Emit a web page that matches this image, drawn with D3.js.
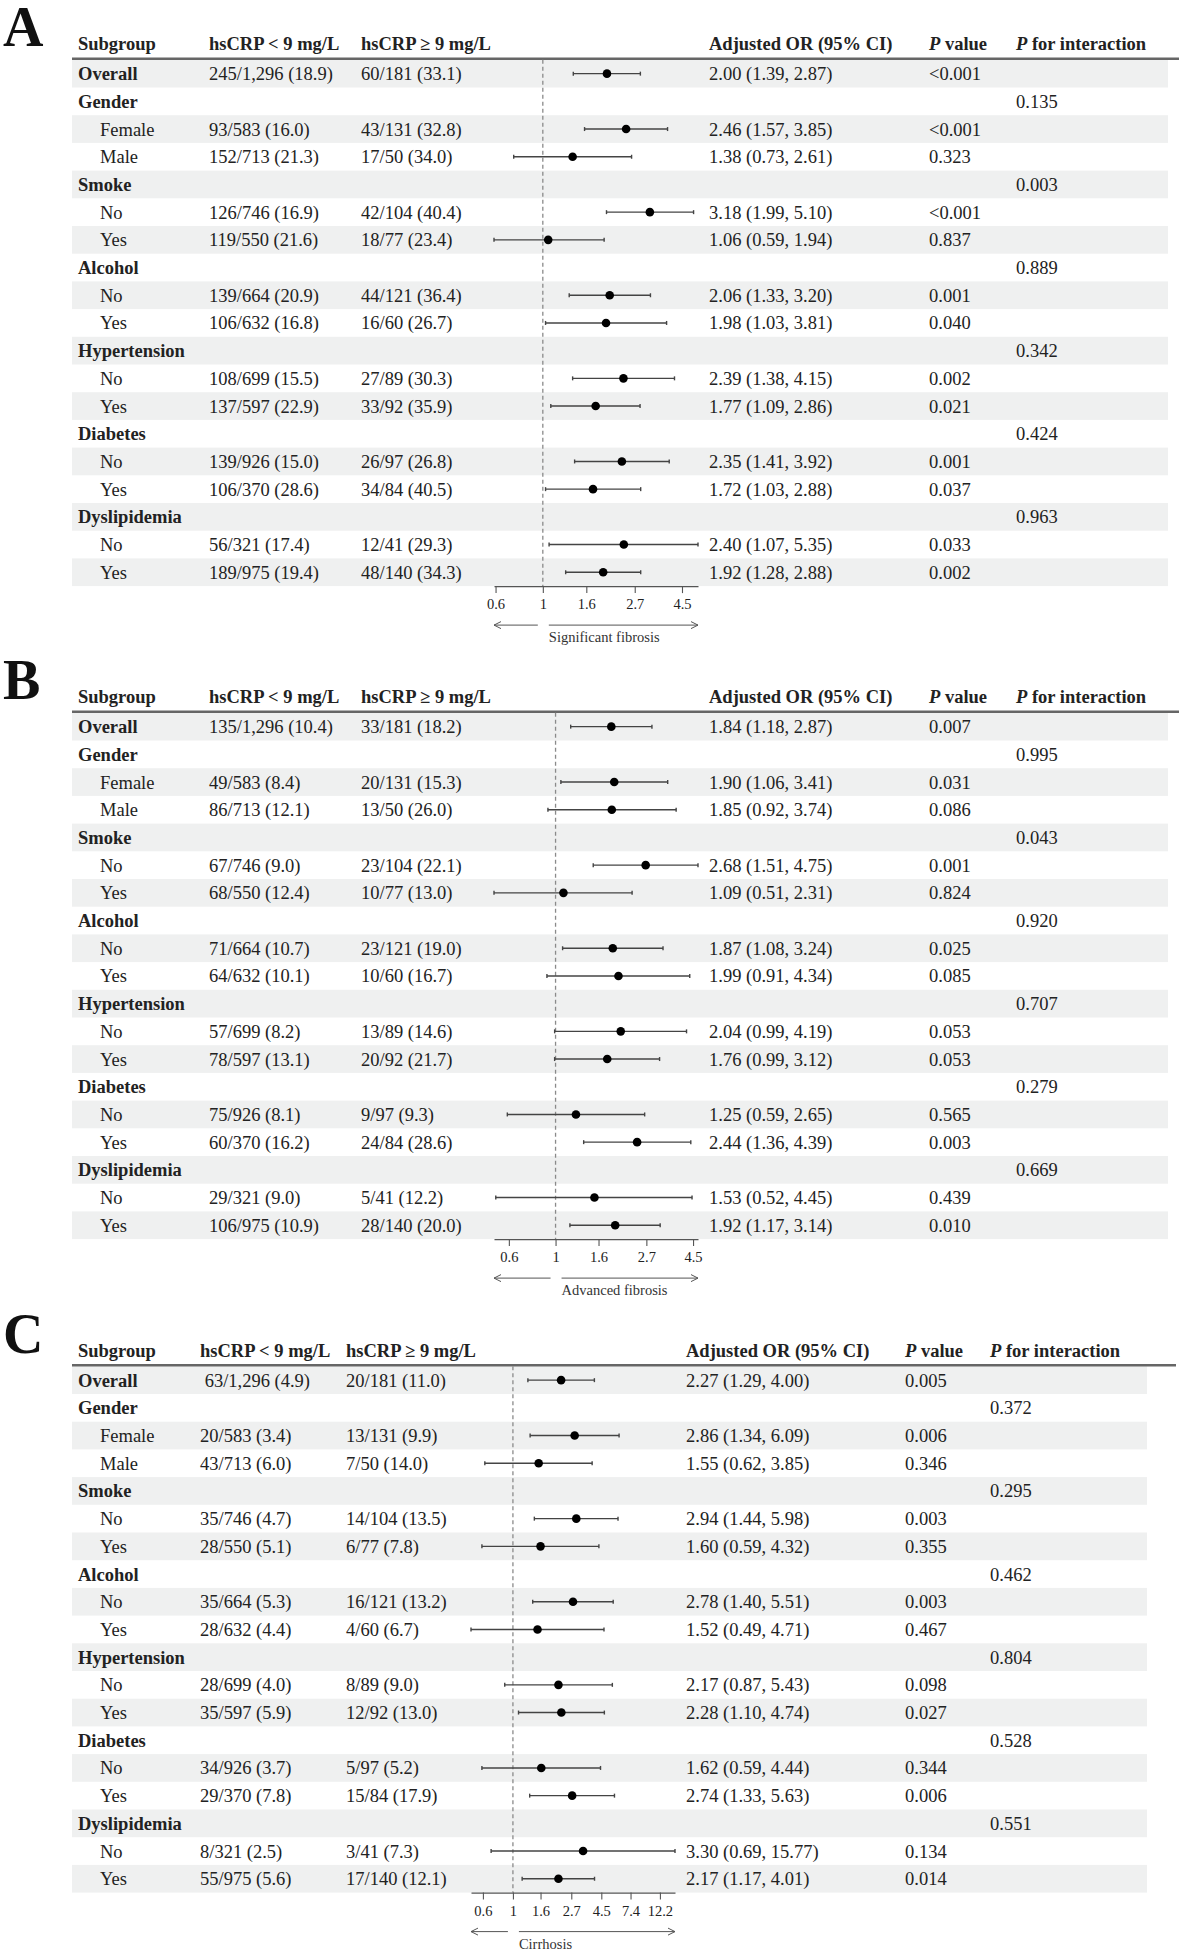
<!DOCTYPE html>
<html>
<head>
<meta charset="utf-8">
<script src="https://cdn.jsdelivr.net/npm/d3@7"></script>
<style>
  body { margin: 0; background: #fff; }
  svg text { font-family: "Liberation Serif", "Times New Roman", serif; fill: #222; white-space: pre; }
</style>
</head>
<body>
<svg id="chart" width="1181" height="1953"></svg>
<script>
// rows shared by the three panels
const subgroups = ["Overall", "Gender", "Female", "Male", "Smoke", "No", "Yes", "Alcohol", "No", "Yes",
  "Hypertension", "No", "Yes", "Diabetes", "No", "Yes", "Dyslipidemia", "No", "Yes"];
const isGroup = [1, 1, 0, 0, 1, 0, 0, 1, 0, 0, 1, 0, 0, 1, 0, 0, 1, 0, 0];

// A - significant fibrosis
const sigLow = ["245/1,296 (18.9)", "", "93/583 (16.0)", "152/713 (21.3)", "", "126/746 (16.9)", "119/550 (21.6)", "",
  "139/664 (20.9)", "106/632 (16.8)", "", "108/699 (15.5)", "137/597 (22.9)", "", "139/926 (15.0)", "106/370 (28.6)", "",
  "56/321 (17.4)", "189/975 (19.4)"];
const sigHigh = ["60/181 (33.1)", "", "43/131 (32.8)", "17/50 (34.0)", "", "42/104 (40.4)", "18/77 (23.4)", "",
  "44/121 (36.4)", "16/60 (26.7)", "", "27/89 (30.3)", "33/92 (35.9)", "", "26/97 (26.8)", "34/84 (40.5)", "",
  "12/41 (29.3)", "48/140 (34.3)"];
const sigOR = [2.00, null, 2.46, 1.38, null, 3.18, 1.06, null, 2.06, 1.98, null, 2.39, 1.77, null, 2.35, 1.72, null, 2.40, 1.92];
const sigLower = [1.39, null, 1.57, 0.73, null, 1.99, 0.59, null, 1.33, 1.03, null, 1.38, 1.09, null, 1.41, 1.03, null, 1.07, 1.28];
const sigUpper = [2.87, null, 3.85, 2.61, null, 5.10, 1.94, null, 3.20, 3.81, null, 4.15, 2.86, null, 3.92, 2.88, null, 5.35, 2.88];
const sigP = ["<0.001", "", "<0.001", "0.323", "", "<0.001", "0.837", "", "0.001", "0.040", "", "0.002", "0.021", "",
  "0.001", "0.037", "", "0.033", "0.002"];
const sigPint = ["", "0.135", "", "", "0.003", "", "", "0.889", "", "", "0.342", "", "", "0.424", "", "", "0.963", "", ""];

// B - advanced fibrosis
const advLow = ["135/1,296 (10.4)", "", "49/583 (8.4)", "86/713 (12.1)", "", "67/746 (9.0)", "68/550 (12.4)", "",
  "71/664 (10.7)", "64/632 (10.1)", "", "57/699 (8.2)", "78/597 (13.1)", "", "75/926 (8.1)", "60/370 (16.2)", "",
  "29/321 (9.0)", "106/975 (10.9)"];
const advHigh = ["33/181 (18.2)", "", "20/131 (15.3)", "13/50 (26.0)", "", "23/104 (22.1)", "10/77 (13.0)", "",
  "23/121 (19.0)", "10/60 (16.7)", "", "13/89 (14.6)", "20/92 (21.7)", "", "9/97 (9.3)", "24/84 (28.6)", "",
  "5/41 (12.2)", "28/140 (20.0)"];
const advOR = [1.84, null, 1.90, 1.85, null, 2.68, 1.09, null, 1.87, 1.99, null, 2.04, 1.76, null, 1.25, 2.44, null, 1.53, 1.92];
const advLower = [1.18, null, 1.06, 0.92, null, 1.51, 0.51, null, 1.08, 0.91, null, 0.99, 0.99, null, 0.59, 1.36, null, 0.52, 1.17];
const advUpper = [2.87, null, 3.41, 3.74, null, 4.75, 2.31, null, 3.24, 4.34, null, 4.19, 3.12, null, 2.65, 4.39, null, 4.45, 3.14];
const advP = ["0.007", "", "0.031", "0.086", "", "0.001", "0.824", "", "0.025", "0.085", "", "0.053", "0.053", "",
  "0.565", "0.003", "", "0.439", "0.010"];
const advPint = ["", "0.995", "", "", "0.043", "", "", "0.920", "", "", "0.707", "", "", "0.279", "", "", "0.669", "", ""];

// C - cirrhosis
const cirLow = [" 63/1,296 (4.9)", "", "20/583 (3.4)", "43/713 (6.0)", "", "35/746 (4.7)", "28/550 (5.1)", "",
  "35/664 (5.3)", "28/632 (4.4)", "", "28/699 (4.0)", "35/597 (5.9)", "", "34/926 (3.7)", "29/370 (7.8)", "",
  "8/321 (2.5)", "55/975 (5.6)"];
const cirHigh = ["20/181 (11.0)", "", "13/131 (9.9)", "7/50 (14.0)", "", "14/104 (13.5)", "6/77 (7.8)", "",
  "16/121 (13.2)", "4/60 (6.7)", "", "8/89 (9.0)", "12/92 (13.0)", "", "5/97 (5.2)", "15/84 (17.9)", "",
  "3/41 (7.3)", "17/140 (12.1)"];
const cirOR = [2.27, null, 2.86, 1.55, null, 2.94, 1.60, null, 2.78, 1.52, null, 2.17, 2.28, null, 1.62, 2.74, null, 3.30, 2.17];
const cirLower = [1.29, null, 1.34, 0.62, null, 1.44, 0.59, null, 1.40, 0.49, null, 0.87, 1.10, null, 0.59, 1.33, null, 0.69, 1.17];
const cirUpper = [4.00, null, 6.09, 3.85, null, 5.98, 4.32, null, 5.51, 4.71, null, 5.43, 4.74, null, 4.44, 5.63, null, 15.77, 4.01];
const cirP = ["0.005", "", "0.006", "0.346", "", "0.003", "0.355", "", "0.003", "0.467", "", "0.098", "0.027", "",
  "0.344", "0.006", "", "0.134", "0.014"];
const cirPint = ["", "0.372", "", "", "0.295", "", "", "0.462", "", "", "0.804", "", "", "0.528", "", "", "0.551", "", ""];

const ticksAB = [0.6, 1, 1.6, 2.7, 4.5];
const ticksC = [0.6, 1, 1.6, 2.7, 4.5, 7.4, 12.2];

const panels = [
  { letter: "A", label: "Significant fibrosis", low: sigLow, high: sigHigh, or: sigOR, lower: sigLower, upper: sigUpper,
    p: sigP, pint: sigPint, ticks: ticksAB, top: 0,
    col: { c1: 209, c2: 361, fx: 494, or: 709, p: 929, pi: 1016, bandR: 1168, ruleR: 1179 } },
  { letter: "B", label: "Advanced fibrosis", low: advLow, high: advHigh, or: advOR, lower: advLower, upper: advUpper,
    p: advP, pint: advPint, ticks: ticksAB, top: 653,
    col: { c1: 209, c2: 361, fx: 494, or: 709, p: 929, pi: 1016, bandR: 1168, ruleR: 1179 } },
  { letter: "C", label: "Cirrhosis", low: cirLow, high: cirHigh, or: cirOR, lower: cirLower, upper: cirUpper,
    p: cirP, pint: cirPint, ticks: ticksC, top: 1306.5,
    col: { c1: 200, c2: 346, fx: 471, or: 686, p: 905, pi: 990, bandR: 1147, ruleR: 1176 } }
];

const svg = d3.select("#chart");
const fs = 18.5;
const rowH = 27.7;
const forestW = 204;
const left = 72;
const fmt = d3.format(".2f");

panels.forEach(pn => {
  const g = svg.append("g").attr("transform", `translate(0,${pn.top})`);
  const c = pn.col;
  const rowTop = 59.8;
  const axisY = rowTop + subgroups.length * rowH;
  const yc = i => rowTop + i * rowH + rowH / 2;

  // panel letter
  g.append("text").attr("x", 3).attr("y", 46)
    .style("font-size", "56px").style("font-weight", "bold").style("fill", "#111")
    .text(pn.letter);

  // zebra bands
  g.selectAll("rect.band").data(subgroups.map((d, i) => i).filter(i => i % 2 === 0))
    .enter().append("rect")
    .attr("x", left).attr("width", c.bandR - left)
    .attr("y", i => rowTop + i * rowH).attr("height", rowH)
    .attr("fill", "#eff0f0");

  // header
  const head = g.append("g").style("font-size", fs + "px").style("font-weight", "bold");
  head.append("text").attr("x", 78).attr("y", 50).text("Subgroup");
  head.append("text").attr("x", c.c1).attr("y", 50).text("hsCRP < 9 mg/L");
  head.append("text").attr("x", c.c2).attr("y", 50).text("hsCRP \u2265 9 mg/L");
  head.append("text").attr("x", c.or).attr("y", 50).text("Adjusted OR (95% CI)");
  const hp = head.append("text").attr("x", c.p).attr("y", 50);
  hp.append("tspan").style("font-style", "italic").text("P");
  hp.append("tspan").text(" value");
  const hpi = head.append("text").attr("x", c.pi).attr("y", 50);
  hpi.append("tspan").style("font-style", "italic").text("P");
  hpi.append("tspan").text(" for interaction");

  g.append("line").attr("x1", left).attr("x2", c.ruleR).attr("y1", 58.8).attr("y2", 58.8)
    .attr("stroke", "#666").attr("stroke-width", 2.4);

  // table cells
  const rows = g.selectAll("g.row").data(subgroups).enter().append("g")
    .attr("transform", (d, i) => `translate(0,${yc(i)})`)
    .style("font-size", fs + "px");
  rows.append("text")
    .attr("x", (d, i) => isGroup[i] ? 78 : 100)
    .attr("dy", "0.35em")
    .style("font-weight", (d, i) => isGroup[i] ? "bold" : "normal")
    .text(d => d);
  rows.append("text").attr("x", c.c1).attr("dy", "0.35em").text((d, i) => pn.low[i]);
  rows.append("text").attr("x", c.c2).attr("dy", "0.35em").text((d, i) => pn.high[i]);
  rows.append("text").attr("x", c.or).attr("dy", "0.35em")
    .text((d, i) => pn.or[i] == null ? "" : `${fmt(pn.or[i])} (${fmt(pn.lower[i])}, ${fmt(pn.upper[i])})`);
  rows.append("text").attr("x", c.p).attr("dy", "0.35em").text((d, i) => pn.p[i]);
  rows.append("text").attr("x", c.pi).attr("dy", "0.35em").text((d, i) => pn.pint[i]);

  // forest scale
  const x = d3.scaleLog()
    .domain([d3.min(pn.lower.filter(v => v != null)), d3.max(pn.upper.filter(v => v != null))])
    .range([c.fx, c.fx + forestW]);

  // reference line at OR = 1
  g.append("line").attr("x1", x(1)).attr("x2", x(1)).attr("y1", rowTop).attr("y2", axisY)
    .attr("stroke", "#8a8a8a").attr("stroke-width", 1.3).attr("stroke-dasharray", "4,3");

  const est = subgroups.map((d, i) => i).filter(i => pn.or[i] != null);
  const ci = g.selectAll("g.ci").data(est).enter().append("g")
    .attr("transform", i => `translate(0,${yc(i)})`);
  ci.append("line").attr("x1", i => x(pn.lower[i])).attr("x2", i => x(pn.upper[i]))
    .attr("stroke", "#444").attr("stroke-width", 1.4);
  ci.append("line").attr("x1", i => x(pn.lower[i])).attr("x2", i => x(pn.lower[i]))
    .attr("y1", -2).attr("y2", 2).attr("stroke", "#444").attr("stroke-width", 1.4);
  ci.append("line").attr("x1", i => x(pn.upper[i])).attr("x2", i => x(pn.upper[i]))
    .attr("y1", -2).attr("y2", 2).attr("stroke", "#444").attr("stroke-width", 1.4);
  ci.append("circle").attr("cx", i => x(pn.or[i])).attr("r", 4.3).attr("fill", "#000");

  // x axis
  const ax = g.append("g").attr("transform", `translate(0,${axisY})`)
    .call(d3.axisBottom(x).tickValues(pn.ticks).tickFormat(d => String(d)).tickSize(7).tickSizeOuter(0).tickPadding(6));
  ax.select(".domain").attr("stroke", "#555").attr("stroke-width", 1.1);
  ax.selectAll(".tick line").attr("stroke", "#555").attr("stroke-width", 1.1);
  ax.selectAll(".tick text").style("font-family", "Liberation Serif, serif").style("font-size", "14.5px").attr("fill", "#333");

  // direction arrows
  const ay = axisY + 39;
  const arrow = (x1, x2) => {
    const dir = Math.sign(x2 - x1);
    g.append("path")
      .attr("d", `M${x1},${ay}H${x2}M${x2 - dir * 7},${ay - 3.5}L${x2},${ay}L${x2 - dir * 7},${ay + 3.5}`)
      .attr("fill", "none").attr("stroke", "#555").attr("stroke-width", 1);
  };
  arrow(x(1) - 5, x.range()[0]);
  arrow(x(1) + 6, x.range()[1]);
  g.append("text").attr("x", x(1) + 6).attr("y", axisY + 56)
    .style("font-size", "14.5px").style("fill", "#333").text(pn.label);
});
</script>
</body>
</html>
